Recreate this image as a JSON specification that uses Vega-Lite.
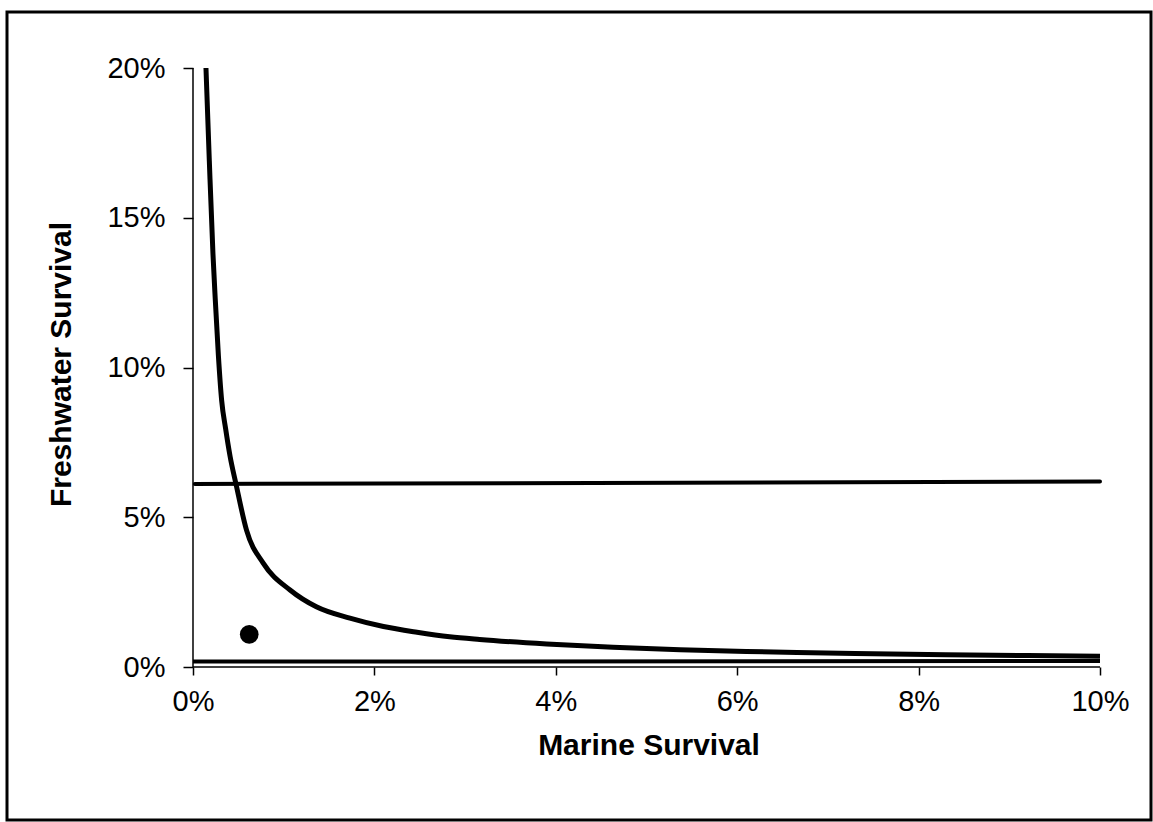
{
  "$schema": "https://vega.github.io/schema/vega-lite/v6.json",
  "autosize": {"type": "none"},
  "padding": {"left": 7, "top": 12, "right": 2, "bottom": 2},
  "width": 1144,
  "height": 808,
  "background": "white",
  "config": {
    "view": {"stroke": "black", "strokeWidth": 3},
    "font": "Liberation Sans"
  },
  "datasets": {
    "curve": [
      {"x": 0.00143, "y": 0.200},
      {"x": 0.00180, "y": 0.169},
      {"x": 0.00220, "y": 0.138},
      {"x": 0.00245, "y": 0.123},
      {"x": 0.00280, "y": 0.104},
      {"x": 0.00316, "y": 0.089},
      {"x": 0.00360, "y": 0.0795},
      {"x": 0.00408, "y": 0.0705},
      {"x": 0.00474, "y": 0.0611},
      {"x": 0.00590, "y": 0.0457},
      {"x": 0.00776, "y": 0.0346},
      {"x": 0.0107, "y": 0.0257},
      {"x": 0.0136, "y": 0.0201},
      {"x": 0.0173, "y": 0.0163},
      {"x": 0.0210, "y": 0.0135},
      {"x": 0.0247, "y": 0.0116},
      {"x": 0.0283, "y": 0.0101},
      {"x": 0.0316, "y": 0.0092},
      {"x": 0.0390, "y": 0.0077},
      {"x": 0.0463, "y": 0.0066},
      {"x": 0.0537, "y": 0.0058},
      {"x": 0.0610, "y": 0.0052},
      {"x": 0.0666, "y": 0.0048},
      {"x": 0.0730, "y": 0.0045},
      {"x": 0.0830, "y": 0.0041},
      {"x": 0.0920, "y": 0.0038},
      {"x": 0.1000, "y": 0.0036}
    ],
    "hline": [
      {"x": 0.0002, "y": 0.0611},
      {"x": 0.1000, "y": 0.0619}
    ],
    "bottom": [
      {"x": 0.0, "y": 0.0018},
      {"x": 0.1, "y": 0.0020}
    ],
    "dot": [
      {"x": 0.0062, "y": 0.0109}
    ],
    "axes": [
      {"x": 0, "y": 0, "x2": 0, "y2": 0.2},
      {"x": 0, "y": 0, "x2": 0.1, "y2": 0}
    ]
  },
  "encoding": {
    "x": {
      "field": "x", "type": "quantitative",
      "scale": {"domain": [-0.020507, 0.105623], "nice": false, "zero": false},
      "axis": {
        "title": "Marine Survival",
        "orient": "bottom",
        "offset": -153,
        "domain": false,
        "grid": false,
        "values": [0, 0.02, 0.04, 0.06, 0.08, 0.1],
        "format": ".0%",
        "tickColor": "black", "tickWidth": 1.5, "tickSize": 8,
        "labelFont": "Liberation Sans", "labelFontSize": 29, "labelColor": "black",
        "labelPadding": 12, "labelFlush": false, "labelOverlap": false,
        "titleFont": "Liberation Sans", "titleFontSize": 30, "titleFontWeight": "bold",
        "titleColor": "black", "titlePadding": 14, "titleX": 641.5
      }
    },
    "y": {
      "field": "y", "type": "quantitative",
      "scale": {"domain": [-0.051085, 0.218698], "nice": false, "zero": false},
      "axis": {
        "title": "Freshwater Survival",
        "orient": "left",
        "offset": -186,
        "domain": false,
        "grid": false,
        "values": [0, 0.05, 0.1, 0.15, 0.2],
        "format": ".0%",
        "tickColor": "black", "tickWidth": 1.5, "tickSize": 10,
        "labelFont": "Liberation Sans", "labelFontSize": 29, "labelColor": "black",
        "labelPadding": 18, "labelFlush": false, "labelOverlap": false,
        "titleFont": "Liberation Sans", "titleFontSize": 30, "titleFontWeight": "bold",
        "titleColor": "black", "titlePadding": 30, "titleY": 352
      }
    }
  },
  "layer": [
    {
      "data": {"name": "axes"},
      "mark": {"type": "rule", "color": "black", "strokeWidth": 1.5},
      "encoding": {"x2": {"field": "x2"}, "y2": {"field": "y2"}}
    },
    {
      "data": {"name": "bottom"},
      "mark": {"type": "line", "color": "black", "strokeWidth": 4, "strokeCap": "butt"},
      "encoding": {}
    },
    {
      "data": {"name": "hline"},
      "mark": {"type": "line", "color": "black", "strokeWidth": 4, "strokeCap": "round"},
      "encoding": {}
    },
    {
      "data": {"name": "curve"},
      "mark": {"type": "line", "color": "black", "strokeWidth": 5, "interpolate": "monotone", "strokeCap": "butt"},
      "encoding": {}
    },
    {
      "data": {"name": "dot"},
      "mark": {"type": "point", "filled": true, "color": "black", "opacity": 1, "size": 350},
      "encoding": {}
    }
  ]
}
